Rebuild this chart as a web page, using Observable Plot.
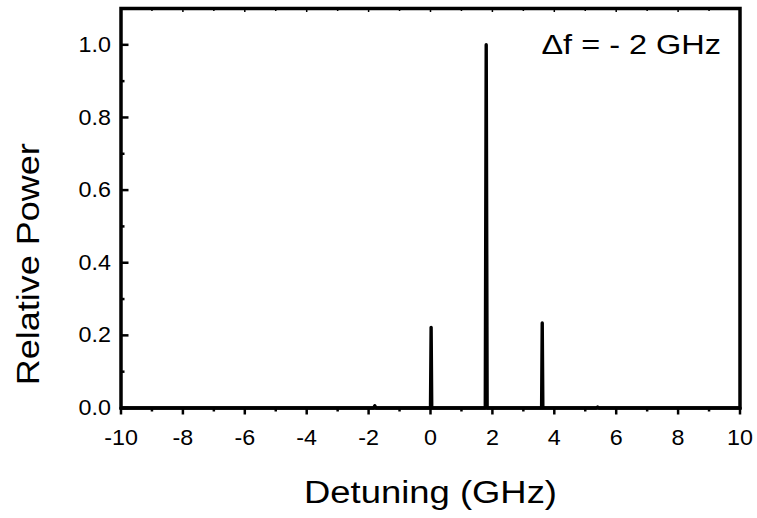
<!DOCTYPE html>
<html>
<head>
<meta charset="utf-8">
<script src="https://cdn.jsdelivr.net/npm/d3@7"></script>
<script src="https://cdn.jsdelivr.net/npm/@observablehq/plot@0.6"></script>
<style>
  html, body { margin: 0; padding: 0; background: white; }
</style>
</head>
<body>
<div id="chart"></div>
<script>
// Spectrum (detuning in GHz, relative power)
const specX = [-10, -1.84, -1.8, -1.76, 0.0, 0.02, 0.04, 1.77, 1.8, 1.83, 3.59, 3.61, 3.63, 5.36, 5.4, 5.44, 10];
const specY = [0,    0,    0.006, 0,    0,   0.222, 0,   0,    1.0, 0,    0,    0.234, 0,    0,    0.003, 0,   0];

const xMajor = [-10, -8, -6, -4, -2, 0, 2, 4, 6, 8, 10];
const xMinor = [-9, -7, -5, -3, -1, 1, 3, 5, 7, 9];
const xTickLabels = ["-10", "-8", "-6", "-4", "-2", "0", "2", "4", "6", "8", "10"];
const yMajor = [0, 0.2, 0.4, 0.6, 0.8, 1.0];
const yMinor = [0.1, 0.3, 0.5, 0.7, 0.9];
const yTickLabels = ["0.0", "0.2", "0.4", "0.6", "0.8", "1.0"];

const xTitle = "Detuning (GHz)";
const yTitle = "Relative Power";
const note = "\u0394f = - 2 GHz";

const spectrum = specX.map((x, i) => ({x, y: specY[i]}));

const W = 757, H = 518;
const mL = 120.5, mR = 17.5, mT = 8, mB = 110.5;
const plotW = W - mL - mR, plotH = H - mT - mB;

const chart = Plot.plot({
  width: W, height: H,
  marginLeft: mL, marginRight: mR, marginTop: mT, marginBottom: mB,
  style: {fontFamily: "'Liberation Sans', Arial, sans-serif", color: "black", background: "white"},
  x: {domain: [-10, 10], label: null},
  y: {domain: [0, 1.1], label: null},
  marks: [
    Plot.line(spectrum, {x: "x", y: "y", stroke: "black", strokeWidth: 3.4}),
    Plot.frame({stroke: "black", strokeWidth: 3.5}),
    // bottom ticks (outward)
    Plot.axisX(xMajor, {tickSize: 7, strokeWidth: 2.5, text: null}),
    Plot.axisX(xMinor, {tickSize: 4, strokeWidth: 2.5, text: null}),
    // top ticks (inward)
    Plot.tickX(xMajor, {x: d => d, insetBottom: plotH - 4, stroke: "black", strokeWidth: 1.5}),
    Plot.tickX(xMinor, {x: d => d, insetBottom: plotH - 3, stroke: "black", strokeWidth: 1.5}),
    // left ticks (inward)
    Plot.tickY(yMajor, {y: d => d, insetRight: plotW - 8, stroke: "black", strokeWidth: 2.5}),
    Plot.tickY(yMinor, {y: d => d, insetRight: plotW - 4, stroke: "black", strokeWidth: 2.5}),
    // tick labels
    Plot.axisX(xMajor, {tickSize: 0, tickPadding: 21, fontSize: 22, tickFormat: (d) => xTickLabels[xMajor.indexOf(d)]}),
    Plot.axisY(yMajor, {tickSize: 0, tickPadding: 10, fontSize: 22, tickFormat: (d) => yTickLabels[yMajor.indexOf(d)]}),
    // titles
    Plot.text([xTitle], {frameAnchor: "bottom", dy: 85, text: d => d, fontSize: 31, textAnchor: "middle", lineAnchor: "middle"}),
    Plot.text([yTitle], {frameAnchor: "left", dx: -92, dy: 56, rotate: -90, text: d => d, fontSize: 31, textAnchor: "middle", lineAnchor: "middle"}),
    Plot.text([note], {frameAnchor: "top-right", dx: -19, dy: 37, text: d => d, fontSize: 28, textAnchor: "end", lineAnchor: "middle"})
  ]
});

// widen the lettering to match the reference's wide type
const widen = new Map([[xTitle, 1.175], [yTitle, 1.16], [note, 1.16]]);
xTickLabels.concat(yTickLabels).forEach(l => widen.set(l, 1.06));
chart.querySelectorAll("text").forEach(t => {
  const s = widen.get(t.textContent);
  if (s) {
    const tr = t.getAttribute("transform") || "";
    t.setAttribute("transform", (tr + ` scale(${s},1)`).trim());
  }
});
document.getElementById("chart").appendChild(chart);
</script>
</body>
</html>
